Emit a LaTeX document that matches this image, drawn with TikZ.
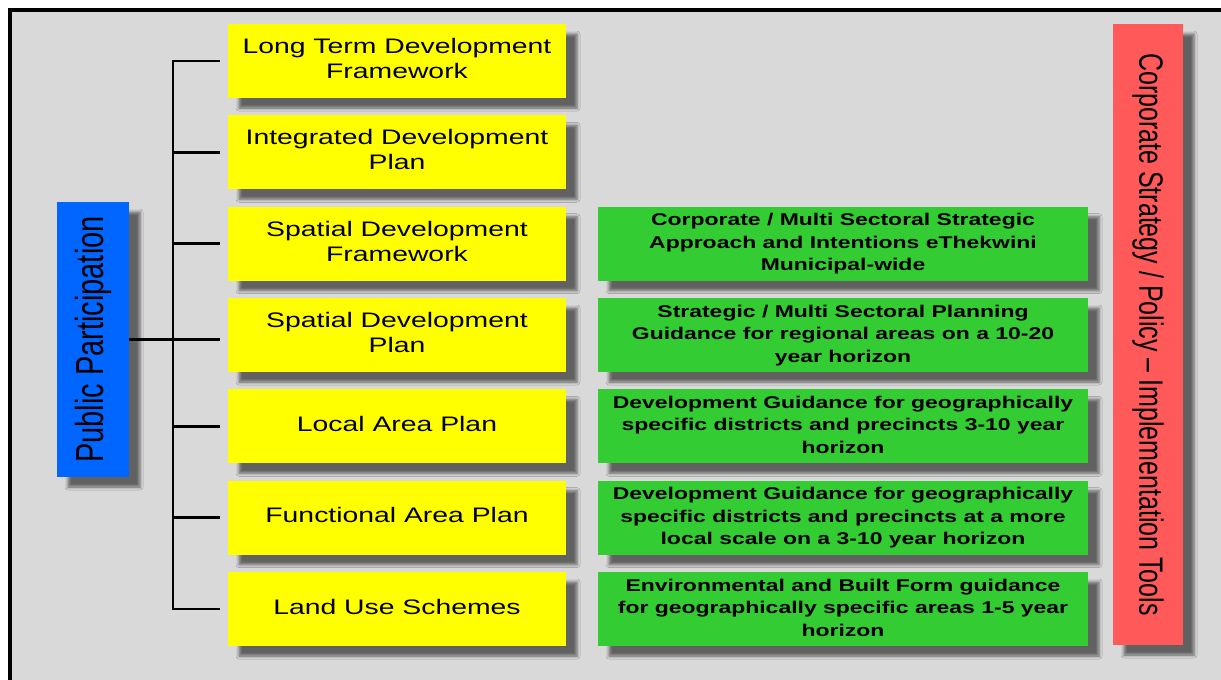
\documentclass[tikz,border=0pt]{standalone}
\usepackage{fontspec}
\setmainfont{Liberation Sans}
\usepackage{graphicx}
\usetikzlibrary{shadows,shadows.blur}
\definecolor{cBg}{HTML}{D9D9D9}
\definecolor{cYellow}{HTML}{FFFF00}
\definecolor{cGreen}{HTML}{33CC33}
\definecolor{cRed}{HTML}{FF5959}
\definecolor{cBlue}{HTML}{0066FF}
\newcommand{\sxt}[1]{\scalebox{1.35}[1]{\begin{tabular}{@{}c@{}}#1\end{tabular}}}
\tikzset{
  boxshadow/.style={blur shadow={shadow xshift=11pt, shadow yshift=-10pt, shadow blur radius=3pt, shadow opacity=55}},
  yellowbox/.style={boxshadow, fill=cYellow, minimum width=338pt, minimum height=74pt, inner sep=0pt, font=\fontsize{21}{25}\selectfont},
  greenbox/.style={boxshadow, fill=cGreen, minimum width=490pt, minimum height=74pt, inner sep=0pt, font=\fontsize{17}{22.5}\selectfont\bfseries},
  bluebox/.style={boxshadow, fill=cBlue, minimum width=72pt, minimum height=275pt, inner sep=0pt, font=\fontsize{29}{34}\selectfont},
  redbox/.style={boxshadow, fill=cRed, minimum width=70pt, minimum height=621pt, inner sep=0pt, font=\fontsize{25}{30}\selectfont},
  link/.style={line width=2.6pt, black},
}
\begin{document}
\begin{tikzpicture}[x=1pt,y=-1pt]
\useasboundingbox (0,0) rectangle (1221,680);
\fill[white] (0,0) rectangle (1221,680);
\fill[cBg] (12,12) rectangle (1221,680);
\fill[black] (8,8) rectangle (1221,12);
\fill[black] (8,8) rectangle (12,680);

\node[yellowbox] (y1) at (397,61) {\sxt{Long Term Development\\Framework}};
\node[yellowbox] (y2) at (397,152.3) {\sxt{Integrated Development\\Plan}};
\node[yellowbox] (y3) at (397,243.7) {\sxt{Spatial Development\\Framework}};
\node[yellowbox] (y4) at (397,335) {\sxt{Spatial Development\\Plan}};
\node[yellowbox] (y5) at (397,426.3) {\sxt{Local Area Plan}};
\node[yellowbox] (y6) at (397,517.7) {\sxt{Functional Area Plan}};
\node[yellowbox] (y7) at (397,609) {\sxt{Land Use Schemes}};

\node[greenbox] (g3) at (843,243.7) {\sxt{Corporate / Multi Sectoral Strategic\\Approach and Intentions eThekwini\\Municipal-wide}};
\node[greenbox] (g4) at (843,335) {\sxt{Strategic / Multi Sectoral Planning\\Guidance for regional areas on a 10-20\\year horizon}};
\node[greenbox] (g5) at (843,426.3) {\sxt{Development Guidance for geographically\\specific districts and precincts 3-10 year\\horizon}};
\node[greenbox] (g6) at (843,517.7) {\sxt{Development Guidance for geographically\\specific districts and precincts at a more\\local scale on a 3-10 year horizon}};
\node[greenbox] (g7) at (843,609) {\sxt{Environmental and Built Form guidance\\for geographically specific areas 1-5 year\\horizon}};

\node[bluebox] (pp) at (93,339.5) {\rotatebox{90}{\scalebox{1}[1.35]{Public Participation}}};
\node[redbox] (cs) at (1148,334.5) {\rotatebox{-90}{\scalebox{1}[1.35]{Corporate Strategy / Policy – Implementation Tools}}};

\coordinate (trunk) at (173,0);
\draw[link] ([xshift=-8pt]y1.west) -- (y1.west -| trunk) -- (y7.west -| trunk) -- ([xshift=-8pt]y7.west);
\foreach \i in {2,3,5,6} {
  \draw[link, shorten >=8pt] (y\i.west -| trunk) -- (y\i.west);
}
\draw[link, shorten >=8pt] (pp.east) -- (pp.east -| y4.west);
\end{tikzpicture}
\end{document}
